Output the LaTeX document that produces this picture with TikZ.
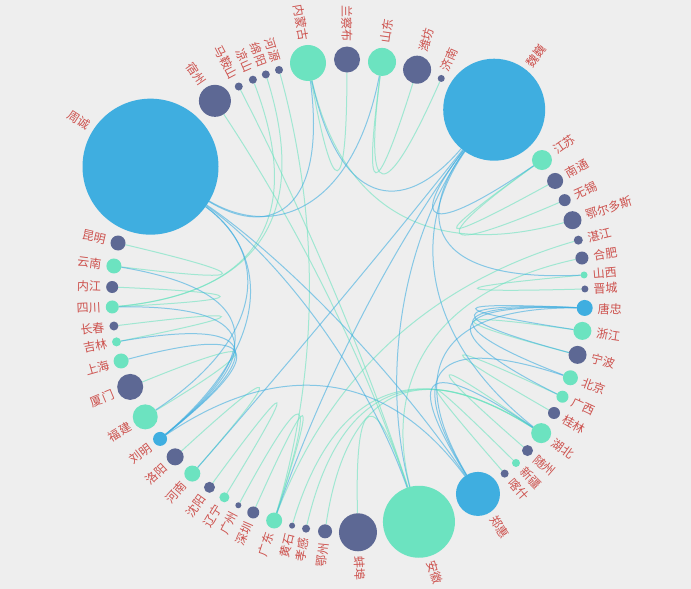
\documentclass[tikz,border=0pt]{standalone}
\usepackage{fontspec}
\newfontfamily\cjk{Noto Sans CJK SC}
\usetikzlibrary{calc}
\definecolor{bgc}{RGB}{238,238,238}
\definecolor{cblue}{RGB}{63,174,224}
\definecolor{cgreen}{RGB}{108,227,192}
\definecolor{cdark}{RGB}{93,104,148}
\definecolor{clab}{RGB}{205,82,78}
\pgfdeclarelayer{bg}
\pgfsetlayers{bg,main}
\tikzset{
  dot/.style={circle, inner sep=0pt, outer sep=0pt, draw=none},
  lab/.style={text=clab, font=\cjk\fontsize{12}{14}\selectfont, inner sep=0pt},
  eg/.style={draw=cgreen, draw opacity=0.6, line width=1pt},
  eb/.style={draw=cblue, draw opacity=0.6, line width=1pt}
}
\newcommand\gnode[5]{%
  \path (C) ++(#2:236.5pt) node[dot, fill=#4, minimum size={2*#3pt}] (#1) {};
  \pgfmathsetmacro\lcos{cos(#2)}%
  \ifdim\lcos pt<0pt
    \path (C) ++(#2:{236.5pt+#3pt+5pt}) node[lab, anchor=east, rotate={#2+180}] (#1-l) {#5};
  \else
    \path (C) ++(#2:{236.5pt+#3pt+5pt}) node[lab, anchor=west, rotate=#2] (#1-l) {#5};
  \fi
}
\newcommand\gedge[3]{%
  \coordinate (m) at ($(#1)!0.5!(#2)$);
  \coordinate (q) at ($(C)!0.1!(m)$);
  \draw[#3] (#1) .. controls ($(#1)!0.6667!(q)$) and ($(#2)!0.6667!(q)$) .. (#2);
}
\begin{document}
\begin{tikzpicture}[x=1pt,y=1pt]
\useasboundingbox (0,0) rectangle (691,589);
\coordinate (C) at (348.5,293);
% nodes: id, angle, radius, colour, label
\gnode{lcb}{90.36}{13}{cdark}{兰察布}
\gnode{sd}{81.85}{14}{cgreen}{山东}
\gnode{wf}{73.14}{14}{cdark}{潍坊}
\gnode{jn}{66.91}{3.5}{cdark}{济南}
\gnode{ww}{51.97}{51}{cblue}{魏巍}
\gnode{js}{35.10}{10}{cgreen}{江苏}
\gnode{nt}{29.11}{8}{cdark}{南通}
\gnode{wx}{23.91}{6}{cdark}{无锡}
\gnode{eeds}{18.70}{9}{cdark}{鄂尔多斯}
\gnode{zj}{13.66}{4.5}{cdark}{湛江}
\gnode{hf}{9.24}{6.5}{cdark}{合肥}
\gnode{sx}{5.10}{3.5}{cgreen}{山西}
\gnode{jc}{1.70}{3.5}{cdark}{晋城}
\gnode{tz}{-2.90}{8}{cblue}{唐忠}
\gnode{zjg}{-8.49}{9}{cgreen}{浙江}
\gnode{nb}{-14.42}{9}{cdark}{宁波}
\gnode{bj}{-20.23}{7.5}{cgreen}{北京}
\gnode{gx}{-25.21}{6}{cgreen}{广西}
\gnode{gl}{-29.65}{6}{cdark}{桂林}
\gnode{hb}{-35.44}{10}{cgreen}{湖北}
\gnode{sz}{-40.81}{5.5}{cdark}{随州}
\gnode{xj}{-44.91}{4}{cgreen}{新疆}
\gnode{ks}{-48.68}{4}{cdark}{喀什}
\gnode{zh}{-56.81}{22}{cblue}{郑惠}
\gnode{ah}{-72.67}{36}{cgreen}{安徽}
\gnode{bb}{-87.70}{19}{cdark}{蚌埠}
\gnode{ez}{-95.69}{7}{cdark}{鄂州}
\gnode{xg}{-100.34}{4}{cdark}{孝感}
\gnode{hs}{-103.80}{3}{cdark}{黄石}
\gnode{gd}{-108.32}{8}{cgreen}{广东}
\gnode{szh}{-113.75}{6}{cdark}{深圳}
\gnode{gz}{-117.76}{3}{cdark}{广州}
\gnode{ln}{-121.65}{5}{cgreen}{辽宁}
\gnode{sy}{-126.00}{5.5}{cdark}{沈阳}
\gnode{hn}{-131.33}{8}{cgreen}{河南}
\gnode{ly}{-137.14}{8.5}{cdark}{洛阳}
\gnode{lm}{-142.82}{7}{cblue}{刘明}
\gnode{fj}{-149.26}{12.5}{cgreen}{福建}
\gnode{xm}{-157.39}{13}{cdark}{厦门}
\gnode{sh}{-164.05}{7.5}{cgreen}{上海}
\gnode{jl}{-168.81}{4.5}{cgreen}{吉林}
\gnode{cc}{-172.71}{4.5}{cdark}{长春}
\gnode{sc}{-177.34}{6.5}{cgreen}{四川}
\gnode{nj}{177.82}{6}{cdark}{内江}
\gnode{yn}{172.71}{7.5}{cgreen}{云南}
\gnode{km}{167.05}{7.5}{cdark}{昆明}
\gnode{zc}{146.85}{68}{cblue}{周诚}
\gnode{suz}{124.39}{16}{cdark}{宿州}
\gnode{mas}{117.65}{4}{cdark}{马鞍山}
\gnode{ls}{113.85}{4}{cdark}{凉山}
\gnode{my}{110.47}{4}{cdark}{绵阳}
\gnode{hy}{107.09}{4}{cdark}{河源}
\gnode{nmg}{99.86}{18}{cgreen}{内蒙古}
\begin{pgfonlayer}{bg}
\fill[bgc] (0,0) rectangle (691,589);
% province - city
\gedge{nmg}{lcb}{eg}
\gedge{nmg}{eeds}{eg}
\gedge{sd}{wf}{eg}
\gedge{sd}{jn}{eg}
\gedge{js}{nt}{eg}
\gedge{js}{wx}{eg}
\gedge{gd}{zj}{eg}
\gedge{gd}{szh}{eg}
\gedge{gd}{gz}{eg}
\gedge{gd}{hy}{eg}
\gedge{ah}{hf}{eg}
\gedge{ah}{bb}{eg}
\gedge{ah}{suz}{eg}
\gedge{ah}{mas}{eg}
\gedge{sx}{jc}{eg}
\gedge{zjg}{nb}{eg}
\gedge{gx}{gl}{eg}
\gedge{hb}{sz}{eg}
\gedge{hb}{ez}{eg}
\gedge{hb}{xg}{eg}
\gedge{hb}{hs}{eg}
\gedge{xj}{ks}{eg}
\gedge{ln}{sy}{eg}
\gedge{hn}{ly}{eg}
\gedge{fj}{xm}{eg}
\gedge{jl}{cc}{eg}
\gedge{sc}{nj}{eg}
\gedge{sc}{ls}{eg}
\gedge{sc}{my}{eg}
\gedge{yn}{km}{eg}
% persons
\gedge{zc}{sd}{eb}
\gedge{zc}{zh}{eb}
\gedge{zc}{ah}{eb}
\gedge{zc}{lm}{eb}
\gedge{zc}{fj}{eb}
\gedge{zc}{nmg}{eb}
\gedge{ww}{sx}{eb}
\gedge{ww}{js}{eb}
\gedge{ww}{nmg}{eb}
\gedge{ww}{gd}{eb}
\gedge{ww}{hn}{eb}
\gedge{ww}{hb}{eb}
\gedge{ww}{ah}{eb}
\gedge{zh}{tz}{eb}
\gedge{zh}{lm}{eb}
\gedge{zh}{hb}{eb}
\gedge{zh}{bj}{eb}
\gedge{tz}{zjg}{eb}
\gedge{tz}{bj}{eb}
\gedge{tz}{gx}{eb}
\gedge{tz}{nb}{eb}
\gedge{lm}{yn}{eb}
\gedge{lm}{sc}{eb}
\gedge{lm}{jl}{eb}
\gedge{lm}{sh}{eb}
\end{pgfonlayer}
\end{tikzpicture}
\end{document}
